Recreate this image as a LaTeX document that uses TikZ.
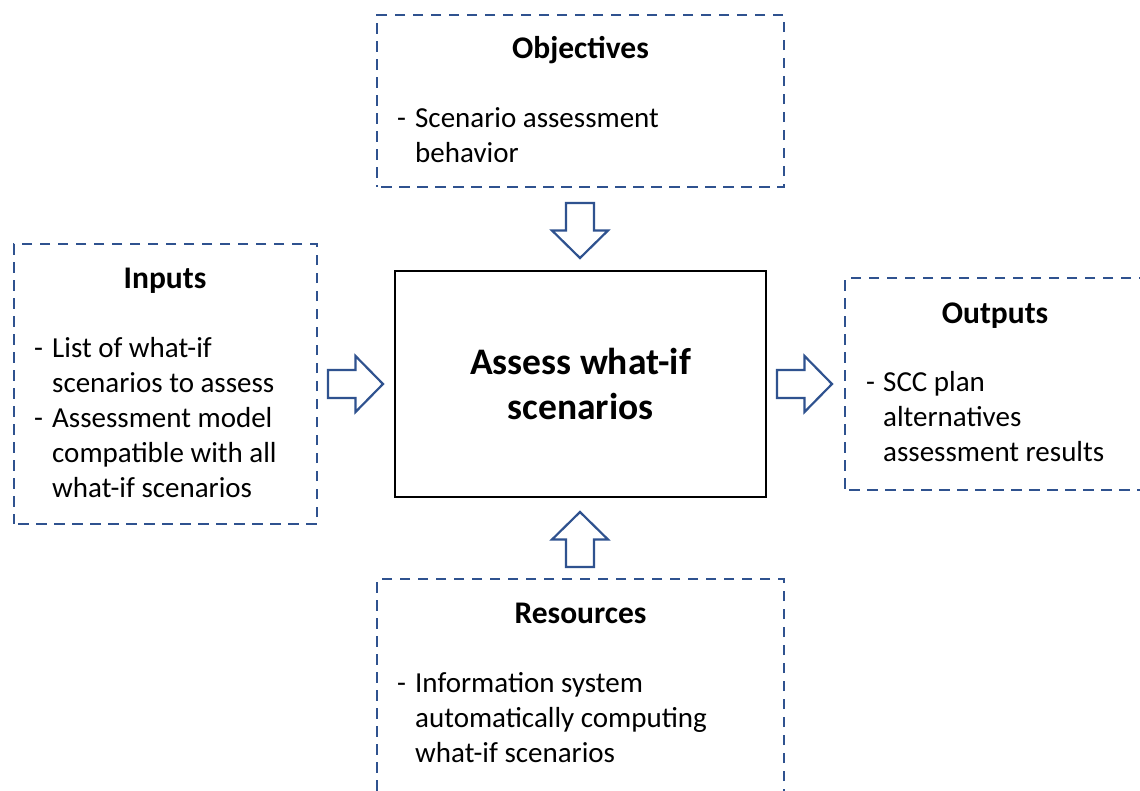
\documentclass[tikz,border=0pt]{standalone}
\usepackage{fontspec}
\setmainfont{Carlito}
\definecolor{dblue}{RGB}{47,82,143}
\tikzset{
  dbox/.style={draw=dblue, line width=2.6pt, dash pattern=on 10.5pt off 7.5pt, dash phase=-4pt, inner sep=0pt},
  arrowline/.style={draw=dblue, line width=2.2pt, fill=white, line join=miter},
  barrow/.pic={\path[arrowline] (-27.5,-14) -- (0,-14) -- (0,-28) -- (27.5,0) -- (0,28) -- (0,14) -- (-27.5,14) -- cycle;},
  ttl/.style={font=\fontsize{31.5}{35}\selectfont\bfseries, anchor=base, inner sep=0pt},
  body/.style={font=\fontsize{29}{35}\selectfont, anchor=base west, inner sep=0pt, align=left},
  procbox/.style={draw=black, line width=2.5pt, minimum width=371pt, minimum height=226pt, inner sep=0pt, align=center, font=\fontsize{37.5}{45}\selectfont\bfseries},
}
\begin{document}
\begin{tikzpicture}[x=1pt,y=-1pt]
\useasboundingbox (0,0) rectangle (1140,790);
\fill[white] (0,0) rectangle (1140,790);
\begin{scope}
\clip (0,0) rectangle (1140,790);
% dashed boxes
\node[dbox, minimum width=407pt, minimum height=172pt] (obj) at (580.5,101) {};
\node[dbox, minimum width=303pt, minimum height=280pt] (inp) at (165.5,384) {};
\node[dbox, minimum width=300pt, minimum height=212pt] (out) at (995,384) {};
\node[dbox, minimum width=407pt, minimum height=231pt] (res) at (580.5,694.5) {};
% process
\node[procbox] (proc) at (580.5,384) {Assess what-if\\scenarios};
% block arrows
\pic[rotate=-90] (aTop) at (580,230.5) {barrow};
\pic (aLeft) at (355.5,384) {barrow};
\pic (aRight) at (804.5,384) {barrow};
\pic[rotate=90] (aBot) at (580,539.5) {barrow};
% titles
\node[ttl] (objT) at (580.5,58) {Objectives};
\node[ttl] (inpT) at (165,288) {Inputs};
\node[ttl] (outT) at (995,323) {Outputs};
\node[ttl] (resT) at (580.5,623) {Resources};
% bodies
\node[body] (objB) at (397,127) {\begin{tabular}[t]{@{}p{18pt}@{}l@{}}- & Scenario assessment\\ & behavior\end{tabular}};
\node[body] (inpB) at (34,357) {\begin{tabular}[t]{@{}p{18pt}@{}l@{}}- & List of what-if\\ & scenarios to assess\\- & Assessment model\\ & compatible with all\\ & what-if scenarios\end{tabular}};
\node[body] (outB) at (866,391) {\begin{tabular}[t]{@{}p{17pt}@{}l@{}}- & SCC plan\\ & alternatives\\ & assessment results\end{tabular}};
\node[body] (resB) at (397,692) {\begin{tabular}[t]{@{}p{18pt}@{}l@{}}- & Information system\\ & automatically computing\\ & what-if scenarios\end{tabular}};
\end{scope}
\end{tikzpicture}
\end{document}
